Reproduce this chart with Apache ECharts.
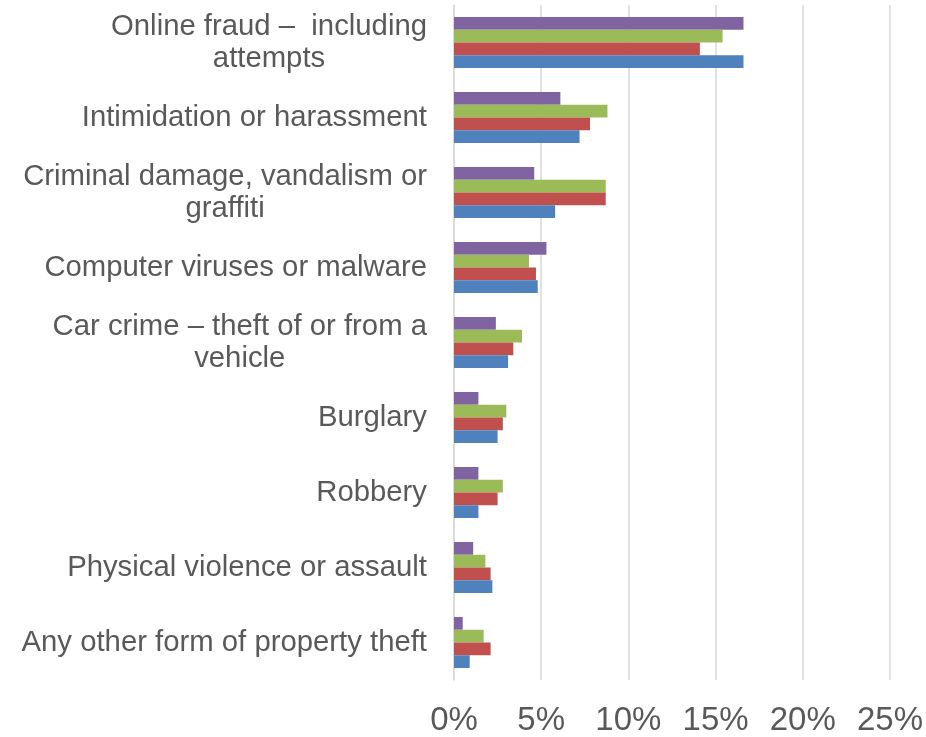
<!DOCTYPE html>
<html>
<head>
<meta charset="utf-8">
<script src="https://cdn.jsdelivr.net/npm/echarts@6/dist/echarts.min.js"></script>
<style>html,body{margin:0;padding:0;background:#fff}#c{width:926px;height:737px}</style>
</head>
<body>
<div id="c"></div>
<script>
const categories = [
  "Online fraud –  including\nattempts",
  "Intimidation or harassment",
  "Criminal damage, vandalism or\ngraffiti",
  "Computer viruses or malware",
  "Car crime – theft of or from a\nvehicle",
  "Burglary",
  "Robbery",
  "Physical violence or assault",
  "Any other form of property theft"
];
const xTicks = [0, 5, 10, 15, 20, 25];
const seriesBlue   = [16.6, 7.2, 5.8, 4.8, 3.1, 2.5, 1.4, 2.2, 0.9];
const seriesRed    = [14.1, 7.8, 8.7, 4.7, 3.4, 2.8, 2.5, 2.1, 2.1];
const seriesGreen  = [15.4, 8.8, 8.7, 4.3, 3.9, 3.0, 2.8, 1.8, 1.7];
const seriesPurple = [16.6, 6.1, 4.6, 5.3, 2.4, 1.4, 1.4, 1.1, 0.5];

const FONT = "'Liberation Sans', Arial, sans-serif";
const chart = echarts.init(document.getElementById('c'), null, {renderer: 'canvas'});
function mk(name, data, color) {
  return {name, type: 'bar', data, barGap: '0%', barCategoryGap: '32%',
    itemStyle: {color}, animation: false};
}
chart.setOption({
  animation: false,
  grid: {left: 454, right: 36, top: 5, bottom: 57, containLabel: false},
  xAxis: {
    type: 'value', min: xTicks[0], max: xTicks[xTicks.length - 1], interval: 5,
    axisLine: {show: false}, axisTick: {show: false},
    splitLine: {show: true, lineStyle: {color: '#d9d9d9', width: 1.5}},
    axisLabel: {formatter: v => v + '%', fontSize: 33, color: '#595959', fontFamily: FONT, margin: 24}
  },
  yAxis: {
    type: 'category', data: categories, inverse: true,
    axisLine: {show: true, lineStyle: {color: '#d9d9d9', width: 1.5}},
    axisTick: {show: false},
    axisLabel: {
      margin: 27, align: 'right', color: '#595959', fontSize: 29.3, fontFamily: FONT,
      formatter: v => v.split('\n').map(s => '{a|' + s + '}').join('\n'),
      rich: {a: {align: 'center', fontSize: 29.3, lineHeight: 32, color: '#595959', fontFamily: FONT}}
    }
  },
  series: [
    mk('Purple', seriesPurple, '#8064a2'),
    mk('Green', seriesGreen, '#9bbb59'),
    mk('Red', seriesRed, '#c0504d'),
    mk('Blue', seriesBlue, '#4f81bd')
  ]
});
</script>
</body>
</html>
